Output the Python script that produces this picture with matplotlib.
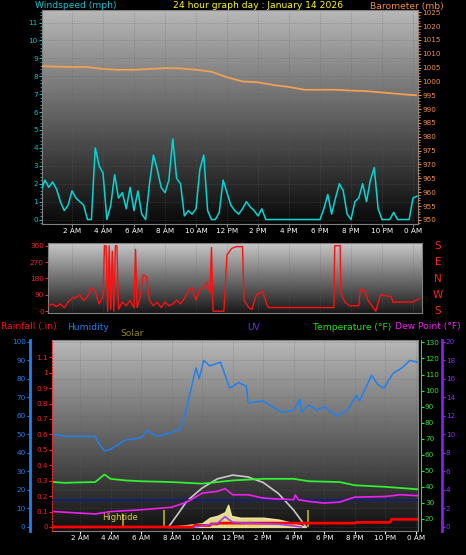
import matplotlib
matplotlib.use("Agg")
import matplotlib.pyplot as plt
import numpy as np
from matplotlib.ticker import MultipleLocator, FixedLocator

# ---- data (hours since midnight) ----
wind_hours = [i * 0.25 for i in range(98)]
wind_mph = [1.6, 2.2, 1.8, 2.1, 1.7, 1.0, 0.5, 0.8, 1.6, 1.2, 1.0, 0.8, 0.0, 0.0, 4.0, 3.0,
            2.6, 0.0, 0.8, 2.5, 1.2, 1.5, 0.6, 1.8, 0.5, 1.6, 0.3, 0.0, 2.0, 3.6, 2.8, 1.8,
            1.5, 2.2, 4.5, 2.3, 2.0, 0.2, 0.5, 0.3, 0.6, 2.8, 3.6, 0.5, 0.0, 0.0, 0.4, 2.2,
            1.5, 0.8, 0.5, 0.3, 0.6, 1.0, 0.7, 0.5, 0.2, 0.6, 0.0, 0.0, 0.0, 0.0, 0.0, 0.0,
            0.0, 0.0, 0.0, 0.0, 0.0, 0.0, 0.0, 0.0, 0.0, 0.6, 1.4, 0.3, 1.2, 2.0, 1.6, 0.3,
            0.0, 1.0, 1.2, 2.0, 1.0, 2.2, 2.9, 0.6, 0.0, 0.0, 0.0, 0.4, 0.0, 0.0, 0.0, 0.0,
            1.2, 1.3]
baro_hours = [0, 2, 3, 4, 5, 6, 7, 8, 9, 10, 11, 12, 13, 14, 15, 16, 17, 18, 19, 20, 21, 22, 23, 24.2]
baro_mb = [1005.5, 1005.2, 1005.2, 1004.5, 1004.2, 1004.2, 1004.5, 1004.8, 1004.7, 1004.2,
           1003.5, 1001.5, 1000.0, 999.7, 998.7, 998.0, 997.0, 997.0, 997.0, 996.7, 996.5,
           996.0, 995.5, 995.0]

dir_hours = [0.5, 0.75, 1.0, 1.25, 1.5, 1.75, 2.0, 2.25, 2.5, 2.75, 3.0, 3.25, 3.5, 3.75, 4.0,
             4.1, 4.2, 4.3, 4.4, 4.5, 4.6, 4.7, 4.8, 4.9, 5.0, 5.25, 5.5, 5.75, 6.0, 6.1, 6.2,
             6.4, 6.6, 6.8, 7.0, 7.25, 7.5, 7.75, 8.0, 8.25, 8.5, 8.75, 9.0, 9.25, 9.5, 9.75,
             10.0, 10.25, 10.5, 10.7, 10.9, 11.0, 11.1, 11.8, 12.0, 12.3, 12.6, 13.0, 13.1,
             13.4, 13.6, 13.9, 14.3, 14.6, 14.7, 18.9, 18.95, 19.3, 19.35, 19.6, 19.9, 20.5,
             20.6, 20.9, 21.1, 21.6, 21.9, 22.6, 22.7, 24.0, 24.4]
dir_deg = [30, 40, 25, 40, 20, 50, 70, 75, 90, 60, 80, 130, 110, 40, 80,
           360, 360, 0, 360, 10, 330, 0, 360, 360, 10, 50, 30, 60, 20, 340, 20,
           80, 200, 190, 60, 30, 50, 20, 50, 30, 40, 60, 40, 70, 110, 130,
           60, 120, 130, 160, 100, 350, 0, 0, 310, 345, 355, 355, 60,
           20, 10, 90, 110, 30, 20, 20, 360, 360, 100, 50, 30, 30,
           120, 110, 60, 0, 90, 80, 50, 50, 70]

hum_hours = [0.3, 1, 2, 3, 3.1, 3.6, 4, 5, 6, 6.4, 7, 8, 8.6, 9.0, 9.6, 9.8, 10.1, 10.5, 11.2,
             11.8, 12.4, 12.9, 13.0, 14, 14.6, 15.2, 16, 16.4, 16.5, 17, 17.5, 18, 18.8, 19.5,
             20.1, 20.3, 21.1, 21.5, 21.9, 22.5, 23.1, 23.6, 24.1]
hum_pct = [50, 49, 49, 49, 47, 41, 42, 47, 48, 52, 49, 51, 53, 65, 86, 80, 90, 87, 89,
           75, 78, 76, 67, 68, 65, 62, 63, 69, 62, 66, 63, 65, 60, 63,
           71, 68, 82, 77, 75, 83, 86, 90, 89]

temp_hours = [0.3, 1, 2, 3, 3.6, 4, 5, 6, 8, 10, 12, 14, 16, 17, 19, 20, 22, 24.1]
temp_f = [43, 42.5, 42.8, 43, 47.7, 45, 44, 43.5, 43, 42, 44, 45, 45, 43.5, 43, 41, 40, 38.5]

dew_hours = [0.3, 3, 4, 6, 8, 9, 10, 11, 11.5, 12, 13, 14, 15, 16, 16.1, 16.3, 17, 18, 19, 20, 22, 23, 24.1]
dew_f = [24.6, 23.1, 24.6, 25.7, 27.3, 30.5, 36.1, 37.2, 38.9, 35.1, 35.1, 33.0, 32.4, 32.0,
         35.0, 32.0, 30.9, 29.9, 30.5, 33.6, 34.0, 35.1, 34.5]

rain_hours = [0.2, 9.4, 9.5, 10.5, 10.6, 11.0, 11.1, 17.0, 17.1, 20.0, 20.1, 22.3, 22.4, 24.1]
rain_in = [0, 0, 0.01, 0.01, 0.02, 0.02, 0.025, 0.025, 0.025, 0.025, 0.03, 0.03, 0.05, 0.05]

solar_hours = [7.7, 9, 10, 10.5, 11, 11.5, 11.7, 11.9, 12.5, 14, 15, 16, 16.8]
solar_pct = [0, 1, 2, 5, 6, 8, 12, 6, 5, 5, 4, 2, 0]

solar_max_hours = [7.8, 8.5, 9, 10, 11, 12, 13, 14, 15, 16, 16.8]
solar_max_pct = [0, 8, 14, 21, 26, 28, 27, 24, 18, 9, 0]

uv_hours = [9.5, 10, 11, 11.5, 12, 13, 15, 16, 16.5]
uv_index = [0, 0.1, 0.4, 1.1, 0.5, 0.4, 0.3, 0.1, 0]

event_hours = [4.8, 7.5, 16.9]
event_heights = [7, 9, 9]

xtick_hours = [2, 4, 6, 8, 10, 12, 14, 16, 18, 20, 22, 24]
xtick_labels = ["2 AM", "4 AM", "6 AM", "8 AM", "10 AM", "12 PM", "2 PM", "4 PM",
                "6 PM", "8 PM", "10 PM", "0 AM"]

W, H = 466, 555
fig = plt.figure(figsize=(W / 100, H / 100), dpi=100, facecolor="black")
plt.rcParams["font.family"] = "DejaVu Sans"
grad = np.linspace(0, 1, 256).reshape(-1, 1)
HEAD = 6.6


def pane(left, top, right, bottom, top_grey, bottom_grey):
    ax = fig.add_axes([left / W, 1 - bottom / H, (right - left) / W, (bottom - top) / H])
    ax.set_facecolor("black")
    cmap = matplotlib.colors.LinearSegmentedColormap.from_list(
        "g", [bottom_grey, top_grey])
    ax.imshow(grad, extent=[0, 1, 0, 1], transform=ax.transAxes, cmap=cmap,
              aspect="auto", origin="lower", zorder=0)
    for s in ax.spines.values():
        s.set_color("#808080")
    ax.tick_params(colors="white", labelsize=5.2, length=2, pad=1)
    return ax


def hours_to_x(px_left, px_right, px_at2, px_per_h):
    return ((px_left - px_at2) / px_per_h + 2, (px_right - px_at2) / px_per_h + 2)


# ---- top: wind speed + barometer ----
ax1 = pane(42, 10, 418, 224, "#b8b8b8", "#080808")
ax1.set_xlim(*hours_to_x(42, 418, 72, 15.5))
ax1.set_ylim(-0.25, 11.7)
ax1.plot(wind_hours, wind_mph, color="#00d8d8", lw=1.1, zorder=3)
ax1.yaxis.set_major_locator(MultipleLocator(1))
ax1.yaxis.set_minor_locator(MultipleLocator(0.2))
ax1.tick_params(axis="y", colors="#00c8d8", which="both")
ax1.tick_params(axis="y", which="minor", length=1.5, color="#00c8d8")
ax1.set_xticks(xtick_hours)
ax1.set_xticklabels(xtick_labels, color="white")
ax1.tick_params(axis="x", length=2, color="#808080")
ax1.grid(True, color="#606060", lw=0.5, ls=":", alpha=0.6)
ax1b = ax1.twinx()
ax1b.set_ylim(948.5, 1025.8)
ax1b.plot(baro_hours, baro_mb, color="#f0a050", lw=1.3)
ax1b.yaxis.set_major_locator(MultipleLocator(5))
ax1b.yaxis.set_minor_locator(MultipleLocator(1))
ax1b.tick_params(axis="y", colors="#f09040", labelsize=5.2, length=2, pad=1, which="both")
ax1b.tick_params(axis="y", which="minor", length=1.5)
for s in ax1b.spines.values():
    s.set_visible(False)

fig.text(35 / W, 1 - 6 / H, "Windspeed (mph)", color="#00c8d8", fontsize=HEAD, va="center")
fig.text(258 / W, 1 - 6 / H, "24 hour graph day : January 14 2026", color="#ffff00",
         fontsize=HEAD, va="center", ha="center")
fig.text(444 / W, 1 - 6 / H, "Barometer (mb)", color="#f09040", fontsize=HEAD,
         va="center", ha="right")

# ---- middle: wind direction ----
ax2 = pane(48, 243, 422, 313, "#c8c8c8", "#181818")
ax2.set_xlim(*hours_to_x(48, 422, 72, 15.5))
ax2.set_ylim(-10, 375)
ax2.plot(dir_hours, dir_deg, color="#ff1010", lw=1.0, zorder=3)
ax2.set_yticks([0, 90, 180, 270, 360])
ax2.tick_params(axis="y", colors="#ff2020")
ax2.set_xticks(xtick_hours)
ax2.tick_params(axis="x", labelbottom=False, length=0)
ax2.grid(True, axis="x", color="#606060", lw=0.5, ls=":", alpha=0.6)
for i, letter in enumerate(["S", "E", "N", "W", "S"]):
    fig.text(438 / W, 1 - (246 + i * 16.3) / H, letter, color="#ff2020", fontsize=7.5,
             ha="center", va="center")

# ---- bottom: rain / humidity / solar / uv / temperature ----
ax3 = pane(52, 340, 418, 531, "#b8b8b8", "#101010")
ax3.set_xlim(*hours_to_x(52, 418, 80, 15.27))
ax3.set_ylim(-2.2, 101)
ax3.fill_between(solar_hours, solar_pct, 0, color="#f8f0a0", alpha=0.9, zorder=2)
ax3.plot(solar_max_hours, solar_max_pct, color="#c8c8c8", lw=1.2, zorder=3)
ax3.plot(hum_hours, hum_pct, color="#2080f0", lw=1.1, zorder=4)
ax3.vlines(event_hours, 0, event_heights, color="#c0b020", lw=1.2, zorder=3)
ax3.text(4.6, 3.5, "Hightide", color="#e0d040", fontsize=6, ha="center", zorder=5)
ax3.text(12.6, -0.2, "Moon Set", color="#e0d040", fontsize=6, ha="center", zorder=5)
ax3.set_xticks(xtick_hours)
ax3.set_xticklabels(xtick_labels, color="white")
ax3.yaxis.set_major_locator(MultipleLocator(10))
ax3.tick_params(axis="y", colors="#2080f0")
ax3.spines["left"].set_position(("outward", 16))
ax3.spines["left"].set_color("#2080f0")
ax3.spines["left"].set_linewidth(2)
ax3.grid(True, color="#606060", lw=0.5, ls=":", alpha=0.6)

ax3r = ax3.twinx()
ax3r.set_ylim(-0.026, 1.212)
ax3r.plot(rain_hours, rain_in, color="#ff0000", lw=2, zorder=4)
ax3r.yaxis.set_label_position("left")
ax3r.yaxis.tick_left()
ax3r.yaxis.set_major_locator(FixedLocator([0, 0.1, 0.2, 0.3, 0.4, 0.5, 0.6, 0.7, 0.8, 0.9, 1.0, 1.1]))
ax3r.set_yticklabels(["0", "0.1", "0.2", "0.3", "0.4", "0.5", "0.6", "0.7", "0.8",
                      "0.9", "1", "1.1"])
ax3r.tick_params(axis="y", colors="#ff2020", labelsize=5.2, length=2, pad=1)
ax3r.spines["left"].set_color("#ff2020")
ax3r.spines["left"].set_linestyle(":")
for k in ("right", "top", "bottom"):
    ax3r.spines[k].set_visible(False)

ax3t = ax3.twinx()
ax3t.set_ylim(12.5, 131.5)
ax3t.axhline(32, color="#102080", lw=1.3, zorder=2)
ax3t.plot(dew_hours, dew_f, color="#f020f0", lw=1.2, zorder=4)
ax3t.plot(temp_hours, temp_f, color="#30f030", lw=1.3, zorder=4)
ax3t.set_yticks(range(20, 131, 10))
ax3t.tick_params(axis="y", colors="#30e030", labelsize=5.2, length=2, pad=1)
ax3t.spines["right"].set_position(("outward", 2))
ax3t.spines["right"].set_color("#30e030")
for k in ("left", "top", "bottom"):
    ax3t.spines[k].set_visible(False)

ax3u = ax3.twinx()
ax3u.set_ylim(-0.44, 20.2)
ax3u.plot(uv_hours, uv_index, color="#a040f0", lw=1.2, zorder=4)
ax3u.set_yticks(range(0, 21, 2))
ax3u.tick_params(axis="y", colors="#9030f0", labelsize=5.2, length=2, pad=1)
ax3u.spines["right"].set_position(("outward", 17))
ax3u.spines["right"].set_color("#8020f0")
ax3u.spines["right"].set_linewidth(2)
for k in ("left", "top", "bottom"):
    ax3u.spines[k].set_visible(False)

hy = 1 - 327 / H
fig.text(1 / W, hy, "Rainfall (.in)", color="#ff1010", fontsize=HEAD, va="center")
fig.text(67 / W, hy, "Humidity", color="#2080f0", fontsize=HEAD, va="center")
fig.text(120 / W, 1 - 334 / H, "Solar", color="#908820", fontsize=HEAD, va="center")
fig.text(247 / W, hy, "UV", color="#7030e0", fontsize=HEAD, va="center")
fig.text(313 / W, hy, "Temperature (°F)", color="#20e020", fontsize=HEAD, va="center")
fig.text(395 / W, hy, "Dew Point (°F)", color="#f020f0", fontsize=HEAD, va="center")

fig.savefig("out.png", dpi=100, facecolor="black")
